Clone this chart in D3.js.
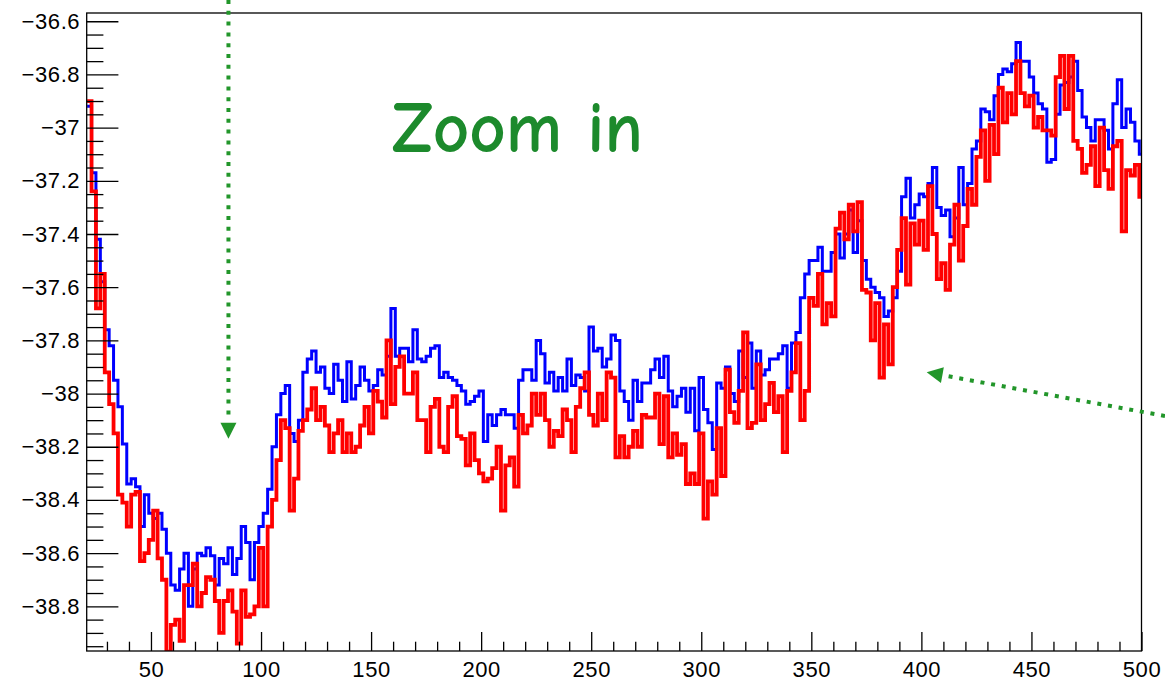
<!DOCTYPE html>
<html>
<head>
<meta charset="utf-8">
<script src="https://cdn.jsdelivr.net/npm/d3@7"></script>
<style>
  html, body { margin: 0; padding: 0; background: #fff; }
  svg { display: block; }
</style>
</head>
<body>
<svg id="chart" width="1165" height="681"></svg>
<script>
// Histogram binning: 2-unit bins starting at 21
const binStart = 21;
const binWidth = 2;

// Axis ticks
const xMajorTicks = [50, 100, 150, 200, 250, 300, 350, 400, 450, 500];
const yMajorTicks = [-38.8, -38.6, -38.4, -38.2, -38, -37.8, -37.6, -37.4, -37.2, -37, -36.8, -36.6];

// Blue series, one value per bin (x = 21 .. 499)
const blueValues = [
  -36.92, -37.17, -37.42, -37.58, -37.76, -37.82, -37.95, -38.05, -38.19, -38.34,
  -38.32, -38.35, -38.50, -38.38, -38.45, -38.47, -38.45, -38.51, -38.60, -38.72,
  -38.74, -38.66, -38.60, -38.80, -38.66, -38.60, -38.61, -38.58, -38.61, -38.72,
  -38.62, -38.64, -38.58, -38.68, -38.62, -38.50, -38.56, -38.70, -38.56, -38.50,
  -38.45, -38.36, -38.20, -38.08, -38.00, -37.97, -38.15, -38.18, -38.10, -37.92,
  -37.87, -37.84, -37.92, -37.90, -37.98, -38.00, -37.89, -37.95, -38.03, -37.88,
  -38.02, -37.97, -37.90, -37.95, -37.99, -37.97, -37.91, -37.93, -37.86, -37.68,
  -37.86, -37.83, -37.83, -37.88, -37.76, -37.87, -37.88, -37.86, -37.83, -37.82,
  -37.94, -37.92, -37.94, -37.95, -37.97, -37.99, -38.04, -38.03, -38.01, -37.99,
  -38.18, -38.08, -38.12, -38.08, -38.06, -38.08, -38.08, -38.13, -37.95, -37.91,
  -37.91, -37.95, -37.80, -37.85, -37.96, -37.92, -37.99, -37.94, -37.99, -37.87,
  -37.97, -37.93, -37.94, -37.99, -37.75, -37.84, -37.83, -37.90, -37.87,
  -37.78, -37.80, -37.99, -38.03, -38.10, -37.95, -38.03, -37.96, -37.96, -37.91,
  -37.87, -37.94, -37.86, -37.99, -38.05, -38.01, -37.98, -38.07, -37.98, -38.14,
  -37.94, -38.06, -38.11, -38.21, -37.96, -37.98, -37.90, -38.00, -38.03, -37.84,
  -37.94, -37.81, -37.98, -37.84, -37.93, -37.91, -37.87, -37.87, -37.85, -37.82,
  -37.98, -37.81, -37.77, -37.64, -37.55, -37.50, -37.50, -37.45, -37.54, -37.54,
  -37.47, -37.40, -37.49, -37.40, -37.31, -37.47, -37.35, -37.50, -37.57, -37.60,
  -37.62, -37.64, -37.71, -37.69, -37.64, -37.54, -37.26, -37.19, -37.34, -37.29,
  -37.25, -37.26, -37.21, -37.15, -37.30, -37.33, -37.31, -37.41, -37.34, -37.15,
  -37.29, -37.21, -37.08, -37.05, -36.93, -36.94, -36.97, -36.88, -36.80, -36.78,
  -36.79, -36.76, -36.68, -36.75, -36.75, -36.81, -36.87, -36.91, -36.93, -37.13,
  -37.12, -36.95, -36.84, -36.83, -36.81, -36.75, -36.86, -36.96, -37.00, -37.05,
  -36.97, -36.97, -37.01, -37.08, -36.91, -36.82, -37.00, -36.93, -36.98, -37.05,
  -37.10
];

// Red series, one value per bin (x = 21 .. 499)
const redValues = [
  -36.90, -37.24, -37.68, -37.55, -37.92, -38.04, -38.15, -38.38, -38.41, -38.50,
  -38.38, -38.37, -38.63, -38.60, -38.55, -38.44, -38.62, -38.70, -38.97, -38.87,
  -38.85, -38.93, -38.72, -38.72, -38.64, -38.80, -38.75, -38.69, -38.70, -38.78,
  -38.90, -38.78, -38.74, -38.82, -38.94, -38.74, -38.84, -38.83, -38.80, -38.58,
  -38.80, -38.50, -38.40, -38.25, -38.10, -38.13, -38.44, -38.32, -38.14, -38.10,
  -38.06, -37.98, -38.10, -38.05, -38.12, -38.22, -38.15, -38.10, -38.22, -38.15,
  -38.22, -38.20, -38.12, -38.05, -38.15, -37.99, -38.03, -38.09, -37.80, -38.04,
  -37.90, -37.86, -38.00, -38.00, -37.92, -38.10, -38.10, -38.22, -38.05, -38.02,
  -38.20, -38.22, -38.05, -38.01, -38.16, -38.17, -38.27, -38.15, -38.25, -38.30,
  -38.33, -38.32, -38.28, -38.20, -38.44, -38.27, -38.24, -38.35, -38.08, -38.15,
  -38.12, -38.00, -38.08, -38.00, -38.10, -38.20, -38.14, -38.16, -38.06, -38.10,
  -38.22, -38.05, -37.98, -37.92, -38.08, -38.12, -38.00, -38.10, -37.92,
  -37.94, -38.24, -38.16, -38.24, -38.20, -38.14, -38.20, -38.08, -38.09, -38.09,
  -38.00, -38.19, -38.01, -38.24, -38.15, -38.23, -38.19, -38.34, -38.30, -38.34,
  -38.15, -38.47, -38.33, -38.38, -38.13, -38.31, -37.91, -38.07, -38.11, -37.99,
  -37.77, -38.13, -38.11, -37.89, -38.10, -38.04, -37.96, -38.07, -38.01, -38.22,
  -37.99, -37.92, -37.81, -38.10, -37.99, -37.64, -37.67, -37.55, -37.74, -37.66,
  -37.71, -37.38, -37.32, -37.42, -37.29, -37.39, -37.28, -37.61, -37.62, -37.80,
  -37.66, -37.94, -37.74, -37.89, -37.60, -37.46, -37.34, -37.59, -37.36, -37.44,
  -37.35, -37.46, -37.22, -37.40, -37.57, -37.51, -37.61, -37.44, -37.29, -37.50,
  -37.37, -37.23, -37.29, -37.11, -37.01, -37.20, -36.99, -37.10, -36.85, -36.98,
  -36.87, -36.95, -36.75, -36.87, -36.92, -36.88, -37.00, -36.96, -37.01, -37.01,
  -37.03, -36.81, -36.73, -36.93, -36.73, -37.05, -37.08, -37.17, -37.14, -37.07,
  -37.22, -37.00, -37.16, -37.23, -37.07, -37.05, -37.39, -37.16, -37.18, -37.14,
  -37.26
];

const W = 1165, H = 681;
const frame = { left: 86.7, right: 1141.5, top: 13, bottom: 651 };

const svg = d3.select("#chart");

const x = d3.scaleLinear().domain([20.8, 500]).range([frame.left, frame.right]);
const y = d3.scaleLinear().domain([-38.968, -36.569]).range([frame.bottom, frame.top]);

const labelFont = "'Liberation Sans', Arial, Helvetica, sans-serif";
const green = "#22962a";

// clip region for the histogram lines
svg.append("defs").append("clipPath").attr("id", "plotClip")
  .append("rect")
  .attr("x", frame.left).attr("y", frame.top)
  .attr("width", frame.right - frame.left).attr("height", frame.bottom - frame.top);

// step-line points: left edge of each bin plus the closing right edge
function stepPoints(values) {
  const pts = values.map((v, i) => ({ x: binStart + i * binWidth, v }));
  pts.push({ x: binStart + values.length * binWidth, v: values[values.length - 1] });
  return pts;
}

const stepLine = d3.line()
  .x(d => x(d.x))
  .y(d => y(d.v))
  .curve(d3.curveStepAfter);

const plot = svg.append("g").attr("clip-path", "url(#plotClip)");

plot.append("path")
  .datum(stepPoints(blueValues))
  .attr("d", stepLine)
  .attr("fill", "none")
  .attr("stroke", "#0000ff")
  .attr("stroke-width", 3)
  .attr("stroke-linejoin", "miter");

plot.append("path")
  .datum(stepPoints(redValues))
  .attr("d", stepLine)
  .attr("fill", "none")
  .attr("stroke", "#ff0000")
  .attr("stroke-width", 3.8)
  .attr("stroke-linejoin", "miter");

// frame
svg.append("rect")
  .attr("x", frame.left).attr("y", frame.top)
  .attr("width", frame.right - frame.left).attr("height", frame.bottom - frame.top)
  .attr("fill", "none").attr("stroke", "#000").attr("stroke-width", 1.3);

// minor tick positions
const xMinorTicks = d3.range(3, 50).map(i => i * 10).filter(v => v % 50 !== 0);
const yMinorTicks = d3.range(-779, -731).filter(i => i % 4 !== 0).map(i => +(i * 0.05).toFixed(2));

// labels with a true minus sign
const fmt = d => (d < 0 ? "\u2212" : "") + String(Math.abs(d));

function styleAxis(g) {
  g.select(".domain").remove();
  g.selectAll(".tick line").attr("stroke", "#000").attr("stroke-width", 1.3);
  g.selectAll(".tick text")
    .attr("fill", "#000")
    .style("font-family", labelFont)
    .style("font-size", "22px")
    .style("letter-spacing", "0.6px");
}

// y axis: ticks point into the frame
svg.append("g")
  .attr("transform", `translate(${frame.left},0)`)
  .call(d3.axisLeft(y).tickValues(yMinorTicks).tickSize(-16.7).tickFormat(""))
  .call(styleAxis);

svg.append("g")
  .attr("transform", `translate(${frame.left},0)`)
  .call(d3.axisLeft(y).tickValues(yMajorTicks).tickSize(-31.7).tickPadding(6.5)
    .tickFormat(fmt))
  .call(styleAxis);

// x axis
svg.append("g")
  .attr("transform", `translate(0,${frame.bottom})`)
  .call(d3.axisBottom(x).tickValues(xMinorTicks).tickSize(-9.3).tickFormat(""))
  .call(styleAxis);

svg.append("g")
  .attr("transform", `translate(0,${frame.bottom})`)
  .call(d3.axisBottom(x).tickValues(xMajorTicks).tickSize(-19).tickPadding(10)
    .tickFormat(fmt))
  .call(styleAxis);

// annotation text
svg.append("text")
  .attr("x", 392).attr("y", 152)
  .attr("textLength", 251).attr("lengthAdjust", "spacingAndGlyphs")
  .attr("fill", "#1c8a2c")
  .style("font-family", "'Comic Sans MS', 'Comic Neue', 'Noto Sans', sans-serif")
  .style("font-weight", "bold")
  .style("font-size", "72px")
  .text("Zoom in");

// dotted arrows
function dottedArrow(x0, y0, x1, y1) {
  const dx = x1 - x0, dy = y1 - y0;
  const len = Math.hypot(dx, dy);
  const ux = dx / len, uy = dy / len;
  const headLen = 16, headHalf = 8;
  const bx = x1 - ux * headLen, by = y1 - uy * headLen;
  svg.append("line")
    .attr("x1", x0).attr("y1", y0)
    .attr("x2", bx - ux * 2).attr("y2", by - uy * 2)
    .attr("stroke", green).attr("stroke-width", 4)
    .attr("stroke-dasharray", "4 6.8");
  svg.append("path")
    .attr("d", `M${x1},${y1}L${bx - uy * headHalf},${by + ux * headHalf}L${bx + uy * headHalf},${by - ux * headHalf}Z`)
    .attr("fill", green);
}

dottedArrow(x(85.2), 0, x(85.2), y(-38.17));
dottedArrow(W, 416, x(402.4), y(-37.92));
</script>
</body>
</html>
